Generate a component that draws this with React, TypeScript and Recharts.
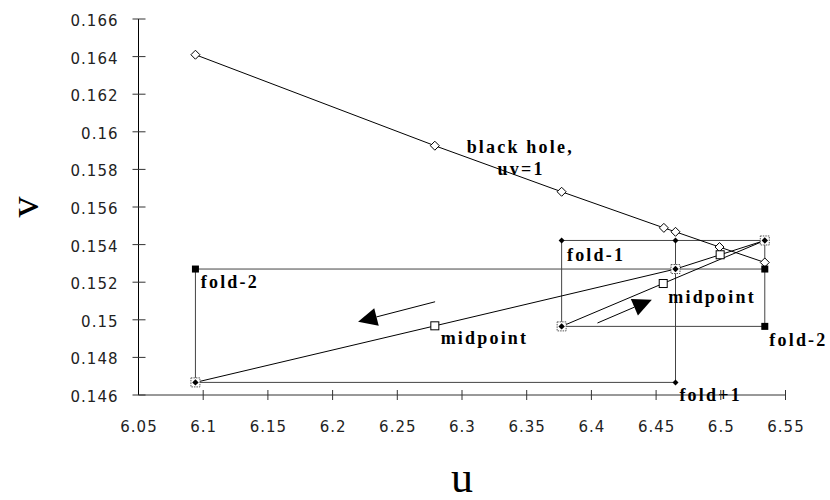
import React from 'react';
import { ScatterChart, Scatter, XAxis, YAxis, ReferenceLine, ReferenceDot } from 'recharts';

// axis ticks
const uTicks = [6.05, 6.1, 6.15, 6.2, 6.25, 6.3, 6.35, 6.4, 6.45, 6.5, 6.55];
const vTicks = [0.146, 0.148, 0.15, 0.152, 0.154, 0.156, 0.158, 0.16, 0.162, 0.164, 0.166];

// black hole curve uv = 1
const holeU = [6.094, 6.279, 6.377, 6.456, 6.465, 6.499, 6.534];
const holeV = [0.1641, 0.15926, 0.15681, 0.15489, 0.15468, 0.15387, 0.15305];

// orbit path A -> C -> D -> B
const orbitU = [6.094, 6.465, 6.534, 6.377];
const orbitV = [0.14667, 0.1527, 0.15422, 0.14965];

// midpoints of the orbit segments
const midU = [6.279, 6.4555, 6.4995];
const midV = [0.14968, 0.15193, 0.15346];

// fold construction lines
const cobU = [6.534, 6.094, 6.094, 6.465, 6.465, 6.377, 6.377, 6.534, 6.534, 6.465];
const cobV = [0.1527, 0.1527, 0.14667, 0.14667, 0.15422, 0.15422, 0.14965, 0.14965, 0.15422, 0.15422];

// fold-2 points (filled squares)
const fold2U = [6.094, 6.534, 6.534];
const fold2V = [0.1527, 0.1527, 0.14965];

// fold+1 / fold-1 points (small filled diamonds)
const foldU = [6.465, 6.465, 6.377];
const foldV = [0.14667, 0.15422, 0.15422];

// text annotations (start of text, baseline)
const notes = [
  { text: 'black hole,', u: 6.3036, v: 0.15889 },
  { text: 'uv=1', u: 6.3275, v: 0.1577 },
  { text: 'fold-1', u: 6.3811, v: 0.15314 },
  { text: 'fold-2', u: 6.0981, v: 0.15168 },
  { text: 'midpoint', u: 6.4594, v: 0.15088 },
  { text: 'midpoint', u: 6.2835, v: 0.1487 },
  { text: 'fold-2', u: 6.5375, v: 0.14862 },
  { text: 'fold+1', u: 6.468, v: 0.1457 },
];

// direction arrows: tail -> tip
const arrows = [
  { u1: 6.2792, v1: 0.15096, u2: 6.2197, v2: 0.1499 },
  { u1: 6.4047, v1: 0.14983, u2: 6.4467, v2: 0.15107 },
];

const zip = (us: number[], vs: number[]) => us.map((u, i) => ({ u, v: vs[i] }));

const fmt = (v: number) => String(+v.toFixed(3));
const tickFont = { fontFamily: 'DejaVu Sans', fontSize: 15, letterSpacing: 1, fill: '#222' };
const noteFont = { fontFamily: 'Liberation Serif', fontWeight: 'bold' as const, fontSize: 18, letterSpacing: 2.2 };

const YTick = (p: any) => {
  const ax = p.x + 21;
  return (
    <g>
      <line x1={ax - 6} x2={ax + 7} y1={p.y} y2={p.y} stroke="#333" />
      <text x={p.x + 1} y={p.y + 7} textAnchor="end" {...tickFont}>{fmt(p.payload.value)}</text>
    </g>
  );
};

const XTick = (p: any) => {
  const ay = p.y - 15;
  return (
    <g>
      {p.index > 0 && <line x1={p.x} x2={p.x} y1={ay - 5} y2={ay + 5} stroke="#333" />}
      <text x={p.x + 0.5} y={ay + 37} textAnchor="middle" {...tickFont}>{fmt(p.payload.value)}</text>
    </g>
  );
};

const uTitle = (p: any) => {
  const vb = p.viewBox ?? { x: 138.5, y: 395, width: 647, height: 105 };
  return (
    <text x={vb.x + vb.width / 2} y={vb.y + vb.height - 8.5} textAnchor="middle"
      fontFamily="Liberation Serif" fontSize={44} fill="#000">u</text>
  );
};

const vTitle = (p: any) => {
  const vb = p.viewBox ?? { x: 0, y: 19, width: 138.5, height: 376 };
  const cx = 37.5;
  const cy = vb.y + vb.height / 2;
  return (
    <text x={cx} y={cy} transform={`rotate(-90 ${cx} ${cy})`} textAnchor="middle"
      fontFamily="Liberation Serif" fontSize={42} fill="#000">v</text>
  );
};

const noMark = () => <g />;

const openDiamond = (p: any) => (
  <path d={`M${p.cx},${p.cy - 4.5}L${p.cx + 4.5},${p.cy}L${p.cx},${p.cy + 4.5}L${p.cx - 4.5},${p.cy}Z`}
    fill="#fff" stroke="#000" />
);

const openSquare = (p: any) => (
  <rect x={p.cx - 4} y={p.cy - 4} width={8} height={8} fill="#fff" stroke="#000" />
);

const filledSquare = (p: any) => (
  <rect x={p.cx - 3.5} y={p.cy - 3.5} width={7} height={7} fill="#000" />
);

const smallDiamond = (p: any) => (
  <path d={`M${p.cx},${p.cy - 3}L${p.cx + 3},${p.cy}L${p.cx},${p.cy + 3}L${p.cx - 3},${p.cy}Z`} fill="#000" />
);

const orbitMark = (p: any) => (
  <g>
    <rect x={p.cx - 4.5} y={p.cy - 4.5} width={9} height={9} fill="#fff" stroke="#555" strokeDasharray="1.5 1" />
    <path d={`M${p.cx},${p.cy - 3.2}L${p.cx + 3.2},${p.cy}L${p.cx},${p.cy + 3.2}L${p.cx - 3.2},${p.cy}Z`} fill="#000" />
  </g>
);

const Arrow = (p: any) => {
  const { x1, y1, x2, y2 } = p;
  const dx = x2 - x1;
  const dy = y2 - y1;
  const len = Math.hypot(dx, dy) || 1;
  const ux = dx / len;
  const uy = dy / len;
  const hl = 19;
  const hw = 9;
  const bx = x2 - ux * hl;
  const by = y2 - uy * hl;
  return (
    <g>
      <line x1={x1} y1={y1} x2={bx} y2={by} stroke="#000" />
      <path d={`M${x2},${y2}L${bx - uy * hw},${by + ux * hw}L${bx + uy * hw},${by - ux * hw}Z`} fill="#000" />
    </g>
  );
};

function App() {
  return (
    <div style={{ position: 'absolute', left: 0, top: 0, background: '#fff' }}>
      <ScatterChart width={830} height={500} margin={{ top: 19, right: 44.5, bottom: 0, left: 0 }}>
        <XAxis
          type="number"
          dataKey="u"
          domain={[6.05, 6.55]}
          ticks={uTicks}
          interval={0}
          allowDataOverflow
          height={105}
          tickSize={5}
          tickMargin={10}
          tickLine={false}
          axisLine={{ stroke: '#333' }}
          tick={<XTick />}
          label={uTitle}
        />
        <YAxis
          type="number"
          dataKey="v"
          domain={[0.146, 0.166]}
          ticks={vTicks}
          interval={0}
          allowDataOverflow
          width={138.5}
          tickSize={6}
          tickMargin={15}
          tickLine={false}
          axisLine={{ stroke: '#000' }}
          tick={<YTick />}
          label={vTitle}
        />

        <Scatter data={zip(cobU, cobV)} line={{ stroke: '#444', strokeWidth: 1 }} shape={noMark} isAnimationActive={false} />
        <Scatter data={zip(orbitU, orbitV)} line={{ stroke: '#000', strokeWidth: 1 }} shape={noMark} isAnimationActive={false} />
        <Scatter data={zip(holeU, holeV)} line={{ stroke: '#000', strokeWidth: 1 }} shape={openDiamond} isAnimationActive={false} />
        <Scatter data={zip(midU, midV)} shape={openSquare} isAnimationActive={false} />
        <Scatter data={zip(fold2U, fold2V)} shape={filledSquare} isAnimationActive={false} />
        <Scatter data={zip(foldU, foldV)} shape={smallDiamond} isAnimationActive={false} />
        <Scatter data={zip(orbitU, orbitV)} shape={orbitMark} isAnimationActive={false} />

        {arrows.map((a, i) => (
          <ReferenceLine
            key={`arrow-${i}`}
            segment={[{ x: a.u1, y: a.v1 }, { x: a.u2, y: a.v2 }]}
            ifOverflow="visible"
            shape={Arrow}
          />
        ))}

        {notes.map((n, i) => (
          <ReferenceDot
            key={`note-${i}`}
            x={n.u}
            y={n.v}
            r={1}
            ifOverflow="visible"
            shape={(p: any) => (
              <text x={p.cx} y={p.cy} fill="#000" {...noteFont}>{n.text}</text>
            )}
          />
        ))}
      </ScatterChart>
    </div>
  );
}

export default App;
